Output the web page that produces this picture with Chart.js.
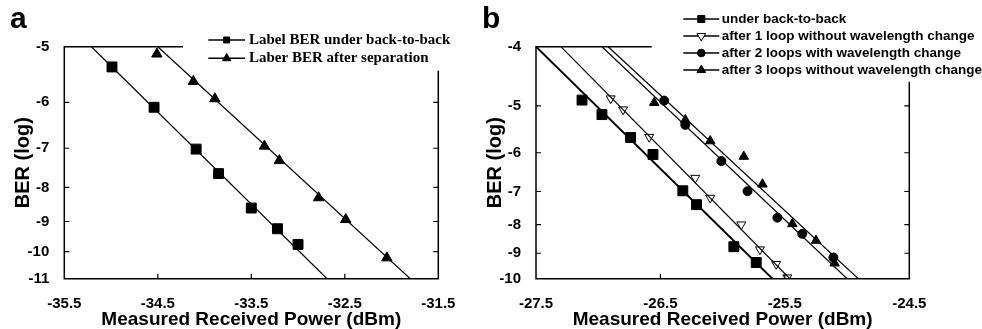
<!DOCTYPE html>
<html>
<head>
<meta charset="utf-8">
<script src="https://cdn.jsdelivr.net/npm/chart.js@4.4.1/dist/chart.umd.min.js"></script>
<style>
  html, body { margin: 0; padding: 0; background: #fff; }
  body { width: 982px; height: 329px; position: relative; overflow: hidden; }
  .panel { position: absolute; top: 0; height: 329px; }
  #panelA { left: 0; width: 472px; }
  #panelB { left: 472px; width: 510px; }
</style>
</head>
<body>
<div class="panel" id="panelA"><canvas id="chartA"></canvas></div>
<div class="panel" id="panelB"><canvas id="chartB"></canvas></div>
<script>
// ---- panel a ----
const aXTicks = [-35.5, -34.5, -33.5, -32.5, -31.5];
const aYTicks = [-5, -6, -7, -8, -9, -10, -11];
const aLabels = ['Label BER under back-to-back', 'Laber BER after separation'];
const aB2bPower = [-34.99, -34.54, -34.09, -33.85, -33.50, -33.22, -33.00];
const aB2bBer = [-5.34, -6.10, -7.02, -7.63, -8.59, -9.23, -9.75];
const aSepPower = [-34.51, -34.12, -33.89, -33.36, -33.20, -32.78, -32.49, -32.05];
const aSepBer = [-5.12, -5.60, -5.93, -6.95, -7.30, -8.29, -8.94, -10.22];
const aB2bFitPower = [-35.21, -32.69];
const aSepFitPower = [-34.50, -31.80];
const aFitBer = [-5, -11];

// ---- panel b ----
const bXTicks = [-27.5, -26.5, -25.5, -24.5];
const bYTicks = [-4, -5, -6, -7, -8, -9, -10];
const bLabels = ['under back-to-back', 'after 1 loop without wavelength change',
  'after 2 loops with wavelength change', 'after 3 loops without wavelength change'];
const bB2bPower = [-27.13, -26.97, -26.74, -26.56, -26.32, -26.21, -25.91, -25.73];
const bB2bBer = [-4.89, -5.17, -5.65, -6.04, -6.98, -7.38, -8.76, -9.35];
const bLoop1Power = [-26.90, -26.80, -26.59, -26.22, -26.10, -25.85, -25.70, -25.57, -25.48];
const bLoop1Ber = [-4.86, -5.07, -5.64, -6.63, -7.18, -8.00, -8.86, -9.41, -9.95];
const bLoop2Power = [-26.47, -26.30, -26.01, -25.80, -25.56, -25.36, -25.11];
const bLoop2Ber = [-4.90, -5.38, -6.20, -6.99, -7.78, -8.31, -9.16];
const bLoop3Power = [-26.55, -26.30, -26.10, -25.83, -25.68, -25.44, -25.25, -25.10];
const bLoop3Ber = [-4.94, -5.28, -5.73, -6.09, -6.80, -7.98, -8.54, -9.38];
const bB2bFitPower = [-27.50, -25.60];
const bLoop1FitPower = [-27.30, -25.46];
const bLoop2FitPower = [-26.97, -25.00];
const bLoop3FitPower = [-26.92, -24.91];
const bFitBer = [-4, -10];

Chart.defaults.font.family = '"Liberation Sans", Arial, sans-serif';
Chart.defaults.color = '#000';

// BER axis: log of the Q factor (classic BER paper scale)
function erfc(x) {
  const z = Math.abs(x), t = 1 / (1 + 0.5 * z);
  const r = t * Math.exp(-z * z - 1.26551223 + t * (1.00002368 + t * (0.37409196 + t * (0.09678418 +
    t * (-0.18628806 + t * (0.27886807 + t * (-1.13520398 + t * (1.48851587 +
    t * (-0.82215223 + t * 0.17087277)))))))));
  return x >= 0 ? r : 2 - r;
}
function qOf(logBer) {
  let lo = 0, hi = 20;
  for (let i = 0; i < 60; i++) {
    const mid = (lo + hi) / 2;
    if (Math.log10(0.5 * erfc(mid / Math.SQRT2)) > logBer) lo = mid; else hi = mid;
  }
  return (lo + hi) / 2;
}
const pts = (xs, ys) => xs.map((v, i) => ({x: v, y: qOf(ys[i])}));

function marks(xs, ys, style, radius, extra) {
  return Object.assign({
    data: pts(xs, ys), showLine: false, pointStyle: style, pointRadius: radius,
    pointBackgroundColor: '#000', pointBorderColor: '#000', pointBorderWidth: 1
  }, extra || {});
}
function fit(xs, ys, width) {
  return {data: pts(xs, ys), showLine: true, pointRadius: 0, borderColor: '#000', borderWidth: width || 1.2};
}

function framePlugin(cfg) {
  return {
    id: 'frame',
    afterDatasetsDraw(chart) {
      const {ctx, chartArea: {left, right, top, bottom}, scales: {x, y}} = chart;
      ctx.save();
      ctx.strokeStyle = '#000';
      ctx.lineWidth = 1.5;
      ctx.beginPath();
      ctx.moveTo(left + cfg.topLine, top);
      ctx.lineTo(left, top);
      ctx.lineTo(left, bottom);
      ctx.lineTo(right, bottom);
      ctx.lineTo(right, top + cfg.rightGap);
      ctx.stroke();

      ctx.lineWidth = 1.2;
      ctx.beginPath();
      y.ticks.forEach(t => {
        const py = y.getPixelForValue(t.value);
        if (py > top + 1 && py < bottom - 1) {
          ctx.moveTo(left, py); ctx.lineTo(left + 5, py);
          if (py > top + cfg.rightGap) { ctx.moveTo(right, py); ctx.lineTo(right - 5, py); }
        }
      });
      x.ticks.forEach(t => {
        const px = x.getPixelForValue(t.value);
        if (px > left + 1 && px < right - 1) { ctx.moveTo(px, bottom); ctx.lineTo(px, bottom - 5); }
      });
      ctx.stroke();

      // legend
      const lg = cfg.legend;
      ctx.font = lg.font;
      ctx.textBaseline = 'middle';
      ctx.textAlign = 'left';
      lg.items.forEach((it, i) => {
        const ly = lg.ys[i];
        ctx.strokeStyle = '#000';
        ctx.lineWidth = 1.5;
        ctx.beginPath();
        ctx.moveTo(lg.x0, ly); ctx.lineTo(lg.x1, ly);
        ctx.stroke();
        ctx.fillStyle = it.fill;
        ctx.lineWidth = 1;
        Chart.helpers.drawPoint(ctx, {pointStyle: it.style, radius: it.radius, rotation: it.rotation || 0, borderWidth: 1},
          (lg.x0 + lg.x1) / 2, ly);
        ctx.fillStyle = '#000';
        ctx.fillText(it.label, lg.textX, ly);
      });

      ctx.font = 'bold 30px "Liberation Sans", Arial, sans-serif';
      ctx.textBaseline = 'alphabetic';
      ctx.fillStyle = '#000';
      ctx.fillText(cfg.letter, 10, 28);
      ctx.restore();
    }
  };
}

function makeChart(id, opt) {
  new Chart(document.getElementById(id).getContext('2d'), {
    type: 'scatter',
    data: {datasets: opt.datasets},
    options: {
      responsive: true,
      maintainAspectRatio: false,
      animation: false,
      layout: {padding: {top: 46.7, right: opt.padRight, left: 0, bottom: 0}},
      plugins: {legend: {display: false}, tooltip: {enabled: false}},
      scales: {
        x: {
          type: 'linear',
          min: opt.xTicks[0],
          max: opt.xTicks[opt.xTicks.length - 1],
          grid: {display: false},
          border: {display: false},
          afterBuildTicks: s => { s.ticks = opt.xTicks.map(v => ({value: v})); },
          afterFit: s => { s.height = 50.3; },
          ticks: {
            padding: 8, maxRotation: 0, autoSkip: false,
            font: {size: 15, weight: 'bold'},
            callback: v => v.toFixed(1)
          },
          title: {
            display: true, text: 'Measured Received Power (dBm)',
            font: {size: 19, weight: 'bold', lineHeight: 1}, padding: 0
          }
        },
        y: {
          type: 'logarithmic',
          reverse: true,
          min: qOf(opt.yTicks[0]),
          max: qOf(opt.yTicks[opt.yTicks.length - 1]),
          grid: {display: false},
          border: {display: false},
          afterBuildTicks: s => { s.ticks = opt.yTicks.map(v => ({value: qOf(v)})); },
          afterFit: s => { s.width = opt.axisWidth; },
          ticks: {
            padding: 7, autoSkip: false,
            font: {size: 15, weight: 'bold'},
            callback: (v, i) => String(opt.yTicks[i])
          },
          title: {
            display: true, text: 'BER (log)',
            font: {size: 20, weight: 'bold', lineHeight: 1.2}, padding: {top: 11, bottom: 0}
          }
        }
      }
    },
    plugins: [framePlugin(opt.frame)]
  });
}

makeChart('chartA', {
  xTicks: aXTicks, yTicks: aYTicks, padRight: 33.7, axisWidth: 64.3,
  datasets: [
    fit(aB2bFitPower, aFitBer),
    fit(aSepFitPower, aFitBer),
    marks(aB2bPower, aB2bBer, 'rect', 7),
    marks(aSepPower, aSepBer, 'triangle', 6)
  ],
  frame: {
    letter: 'a', topLine: 118.7, rightGap: 24,
    legend: {
      x0: 208.3, x1: 245, textX: 249, ys: [40, 58.3],
      font: 'bold 15px "Liberation Serif", "Times New Roman", serif',
      items: [
        {label: aLabels[0], style: 'rect', radius: 4.2, fill: '#000'},
        {label: aLabels[1], style: 'triangle', radius: 4.8, fill: '#000'}
      ]
    }
  }
});

makeChart('chartB', {
  xTicks: bXTicks, yTicks: bYTicks, padRight: 72.7, axisWidth: 64,
  datasets: [
    fit(bB2bFitPower, bFitBer, 2),
    fit(bLoop1FitPower, bFitBer),
    fit(bLoop2FitPower, bFitBer),
    fit(bLoop3FitPower, bFitBer),
    marks(bB2bPower, bB2bBer, 'rect', 7),
    marks(bLoop1Power, bLoop1Ber, 'triangle', 5.2, {pointBackgroundColor: '#fff', pointRotation: 180}),
    marks(bLoop2Power, bLoop2Ber, 'circle', 4.5),
    marks(bLoop3Power, bLoop3Ber, 'triangle', 5.5)
  ],
  frame: {
    letter: 'b', topLine: 115.7, rightGap: 35,
    legend: {
      x0: 211.3, x1: 247.3, textX: 249.7, ys: [19, 36, 53, 70],
      font: 'bold 13.5px "Liberation Sans", Arial, sans-serif',
      items: [
        {label: bLabels[0], style: 'rect', radius: 5, fill: '#000'},
        {label: bLabels[1], style: 'triangle', radius: 5, rotation: 180, fill: '#fff'},
        {label: bLabels[2], style: 'circle', radius: 3.8, fill: '#000'},
        {label: bLabels[3], style: 'triangle', radius: 5, fill: '#000'}
      ]
    }
  }
});
</script>
</body>
</html>
